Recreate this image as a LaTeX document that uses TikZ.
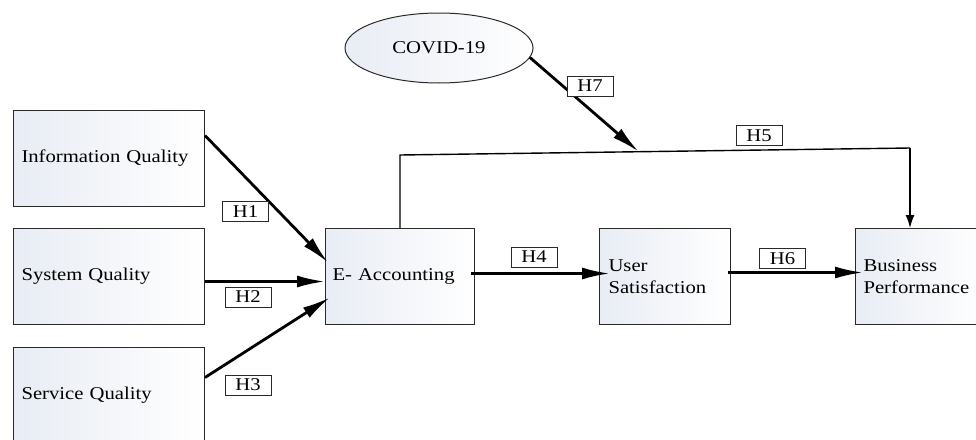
\documentclass[tikz,border=0pt]{standalone}
\usepackage{fontspec}
\setmainfont{Liberation Serif}[FakeStretch=1.15]
\usetikzlibrary{shapes.geometric,arrows.meta,calc}
\definecolor{boxtint}{HTML}{E8ECF4}
\definecolor{edge}{HTML}{2A2A2A}
\begin{document}
\begin{tikzpicture}[x=1pt,y=-1pt,
  font=\fontsize{18}{22}\selectfont,
  constr/.style={draw=edge,line width=1pt,rectangle,left color=boxtint,right color=white,
    minimum height=96pt,align=left,inner ysep=0pt,anchor=north west},
  hlab/.style={draw=edge,line width=0.9pt,rectangle,fill=white,minimum width=46pt,minimum height=20pt,inner sep=0pt},
  bigarrow/.style={line width=2.8pt,-{Latex[length=28pt,width=12pt]}},
  thinarrow/.style={line width=1.4pt,-{Latex[length=13pt,width=9pt]}}
]
\useasboundingbox (0,0) rectangle (976,439);
% constructs
\node[constr,minimum width=191pt,text width=175pt,inner xsep=8pt] (iq) at (13,110) {Information Quality};
\node[constr,minimum width=191pt,text width=175pt,inner xsep=8pt] (sq) at (13,228) {System Quality};
\node[constr,minimum width=191pt,text width=175pt,inner xsep=8pt] (sv) at (13,347) {Service Quality};
\node[constr,minimum width=149pt,text width=135pt,inner xsep=7pt] (ea) at (325,228) {E- Accounting};
\node[constr,minimum width=131pt,text width=113pt,inner xsep=9pt] (us) at (599,228) {User\\Satisfaction};
\node[constr,minimum width=131pt,text width=115pt,inner xsep=8pt] (bp) at (855,228) {Business\\Performance};
\node[ellipse,draw=edge,line width=1pt,left color=boxtint,right color=white,
  minimum width=188pt,minimum height=70pt,inner sep=0pt] (cov) at (439,48) {COVID-19};
% H1-H3
\draw[bigarrow] ([yshift=23pt]iq.east) -- ([xshift=3pt,yshift=14pt]ea.west);
\draw[bigarrow] ([yshift=-5pt]sq.east) -- ([yshift=-5pt]ea.west);
\draw[bigarrow] ([yshift=18pt]sv.east) -- ([xshift=5pt,yshift=-21pt]ea.west);
% H4, H6
\draw[bigarrow] ([xshift=-4pt,yshift=3pt]ea.east) -- ([xshift=11pt,yshift=3pt]us.west);
\draw[bigarrow] ([xshift=-3pt,yshift=4pt]us.east) -- ([xshift=8pt,yshift=4pt]bp.west);
% H5
\coordinate (c1) at (ea.north |- 0,155);
\coordinate (c2) at (910,148);
\coordinate (mid) at ($(c1)!0.468!(c2)$);
\draw[line width=1.4pt] (ea.north) -- (c1) -- (c2);
\draw[thinarrow] (c2) -- (c2 |- bp.north);
% H7
\draw[bigarrow] (cov.-6) -- (mid);
% labels
\node[hlab] (h1) at (245.5,211.5) {H1};
\node[hlab] (h2) at (248,297) {H2};
\node[hlab] (h3) at (248,385) {H3};
\node[hlab] (h4) at (534,257) {H4};
\node[hlab] (h5) at (759,135.5) {H5};
\node[hlab] (h6) at (782.5,258.5) {H6};
\node[hlab] (h7) at (590,86) {H7};
\end{tikzpicture}
\end{document}
